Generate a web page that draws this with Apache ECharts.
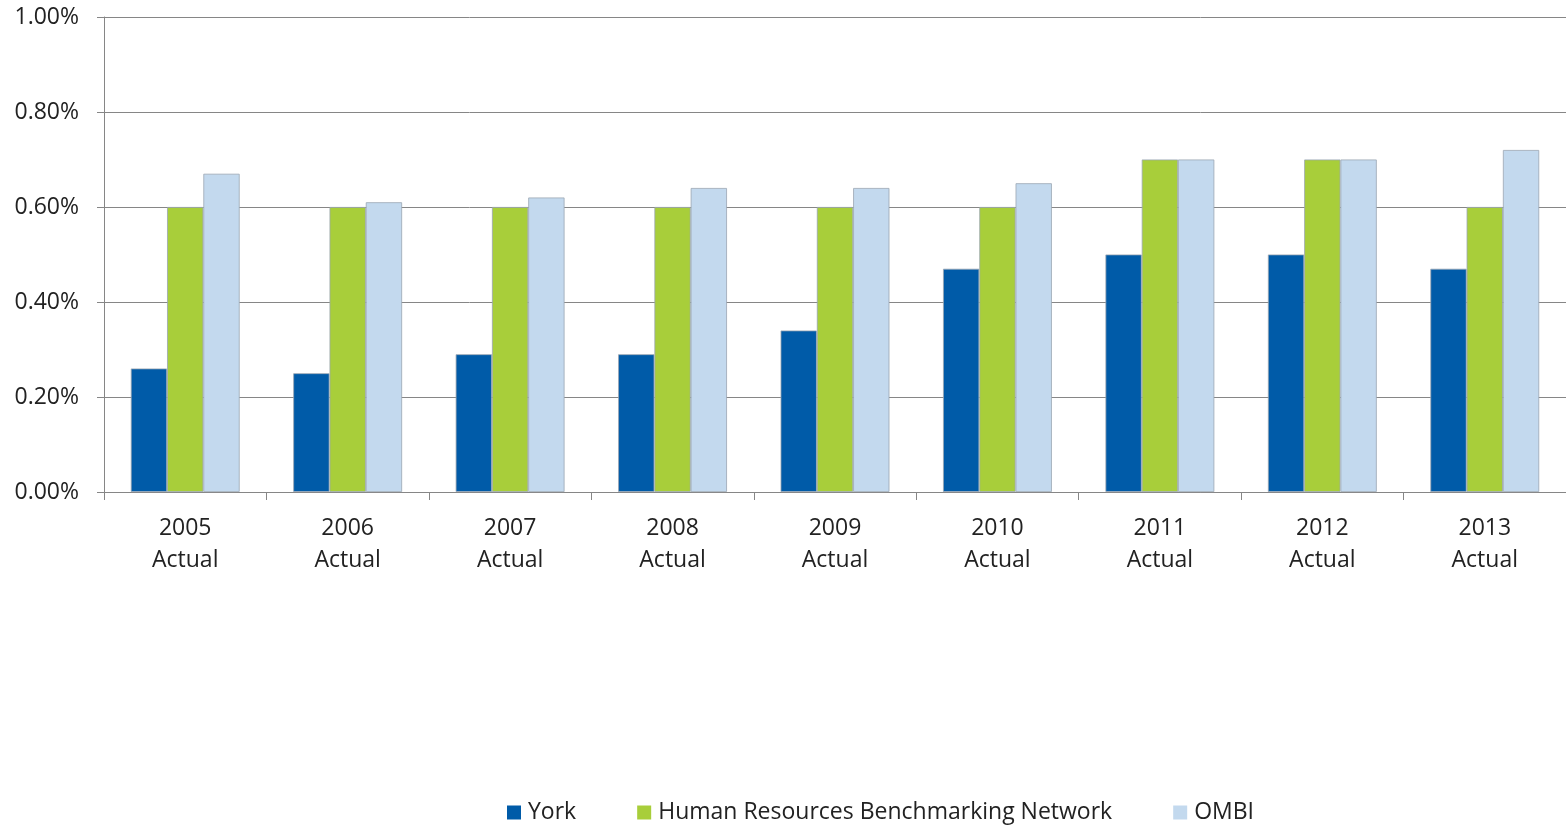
<!DOCTYPE html>
<html><head><meta charset="utf-8">
<script src="https://cdn.jsdelivr.net/npm/echarts@6/dist/echarts.min.js"></script>
<style>html,body{margin:0;padding:0;background:#fff}#c{width:1566px;height:829px}</style>
</head><body><div id="c"></div>
<script>
const categories = ['2005\nActual','2006\nActual','2007\nActual','2008\nActual','2009\nActual','2010\nActual','2011\nActual','2012\nActual','2013\nActual'];
const seriesNames = ['York','Human Resources Benchmarking Network','OMBI'];
const york = [0.26,0.25,0.29,0.29,0.34,0.47,0.50,0.50,0.47];
const hrbn = [0.60,0.60,0.60,0.60,0.60,0.60,0.70,0.70,0.60];
const ombi = [0.67,0.61,0.62,0.64,0.64,0.65,0.70,0.70,0.72];
const colors = ['#005BA8','#A8CE3A','#C3D9EE'];
const font = 'Open Sans';
const chart = echarts.init(document.getElementById('c'));
const mk = (name, data, i) => ({
  name, type:'bar', data, barGap:'0%', barCategoryGap:'33%',
  itemStyle:{color:colors[i], borderColor:'#9aa6b2', borderWidth:0.8},
  emphasis:{disabled:true}
});
chart.setOption({
  animation:false,
  textStyle:{fontFamily:font},
  grid:{left:104,right:0,top:17,bottom:337,containLabel:false},
  legend:{top:801,left:507,padding:0,itemWidth:14,itemHeight:14,itemGap:61,icon:'rect',
    itemStyle:{borderWidth:0},
    textStyle:{fontSize:23,color:'#222',fontFamily:font,padding:[0,0,0,2]},
    data:seriesNames},
  xAxis:{type:'category',data:categories,
    axisLine:{lineStyle:{color:'#868686',width:1}},
    axisTick:{show:true,length:8,lineStyle:{color:'#868686'}},
    axisLabel:{fontSize:23,color:'#222',lineHeight:32,margin:20,fontFamily:font}},
  yAxis:{type:'value',min:0,max:1.0,interval:0.2,
    axisLine:{show:true,lineStyle:{color:'#868686'}},
    axisTick:{show:true,length:7,lineStyle:{color:'#868686'}},
    splitLine:{lineStyle:{color:'#868686',width:1}},
    axisLabel:{fontSize:23,color:'#222',margin:25,fontFamily:font,formatter:v=>v.toFixed(2)+'%'}},
  series:[mk(seriesNames[0],york,0),mk(seriesNames[1],hrbn,1),mk(seriesNames[2],ombi,2)]
});
</script></body></html>
